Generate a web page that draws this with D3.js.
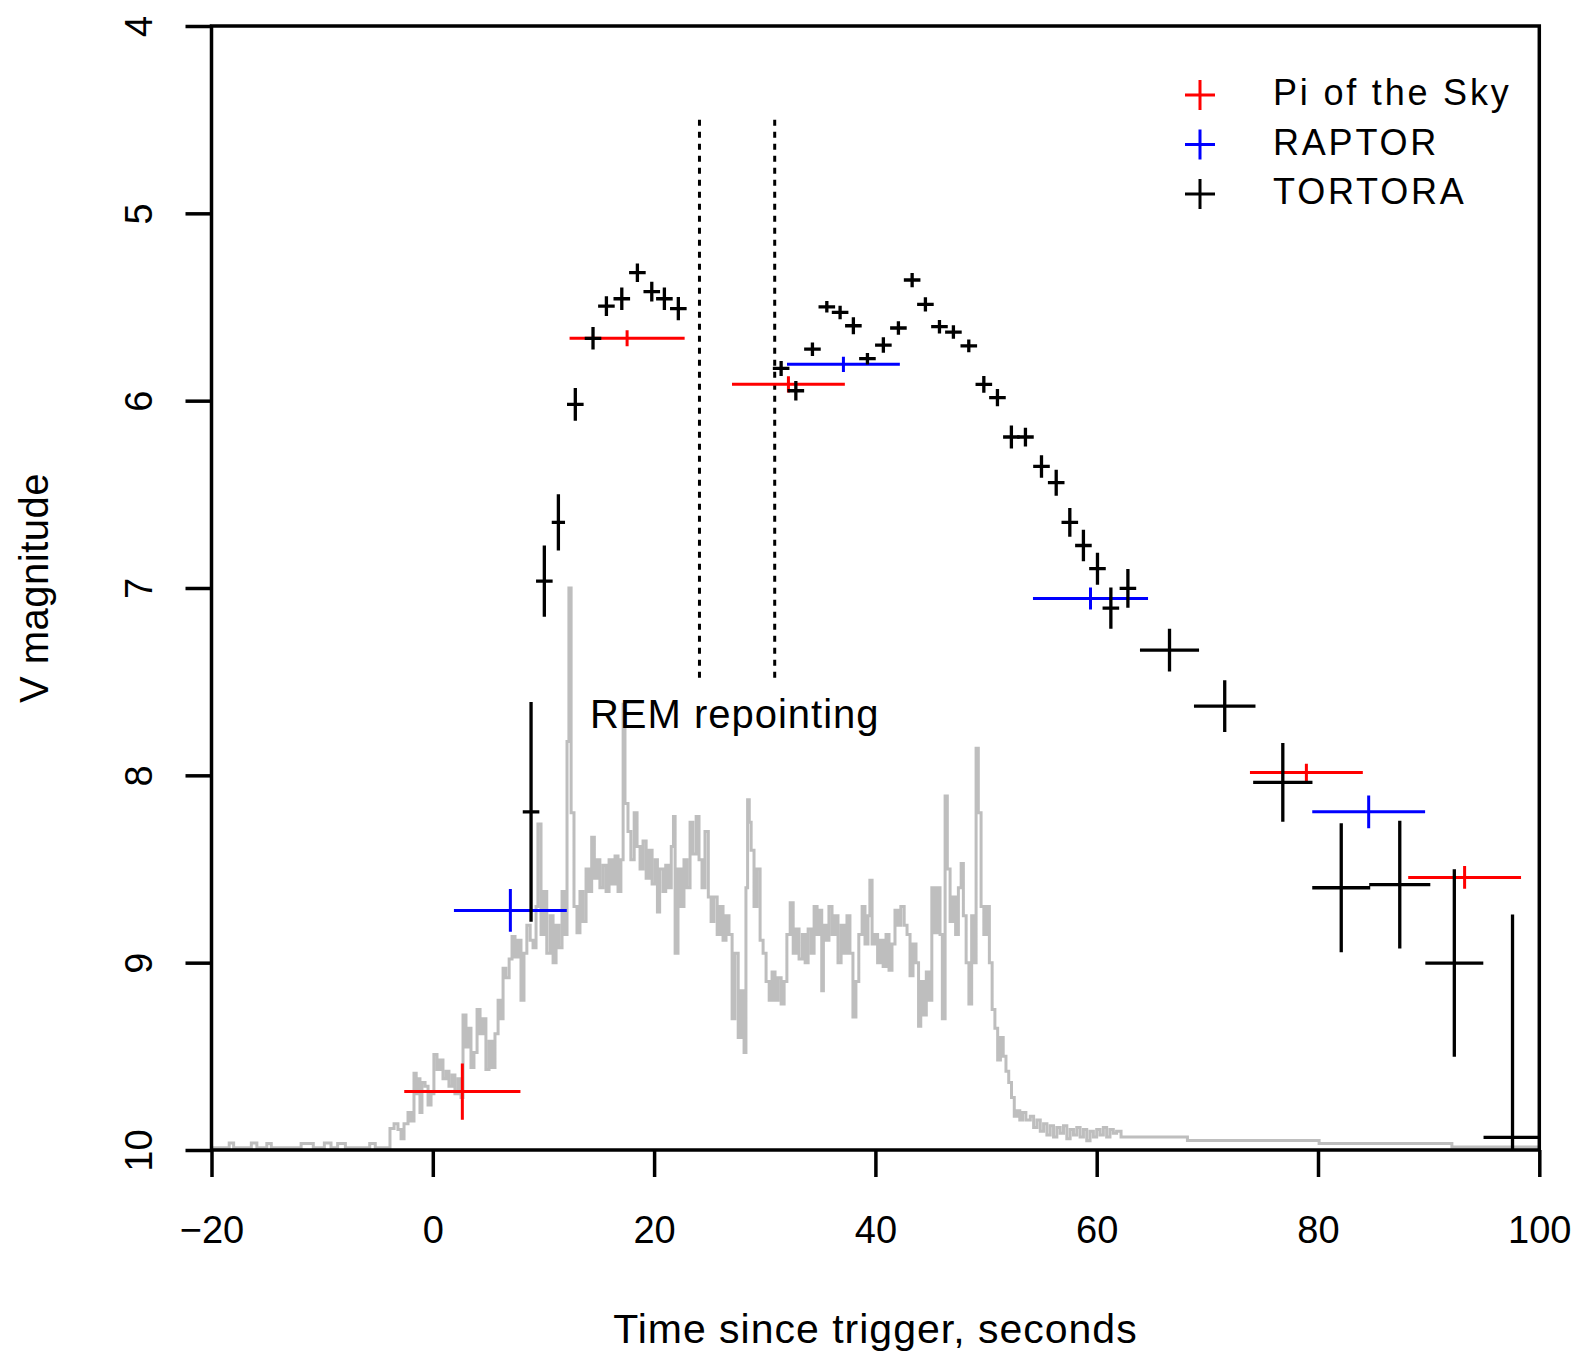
<!DOCTYPE html>
<html>
<head>
<meta charset="utf-8">
<script src="https://cdn.jsdelivr.net/npm/d3@7"></script>
<style>
    body { margin: 0; background: #fff; }
    svg { display: block; font-family: "Liberation Sans", Arial, sans-serif; }
</style>
</head>
<body>
<div id="chart"></div>
<script>
var xTicks = [-20, 0, 20, 40, 60, 80, 100];
var yTicks = [4, 5, 6, 7, 8, 9, 10];

// Pi of the Sky: time, magnitude, half-widths of the error bars
var piTime = [2.67, 17.56, 32.14, 78.95, 93.25];
var piMag = [9.688, 5.667, 5.913, 7.985, 8.545];
var piTimeErr = [5.25, 5.2, 5.1, 5.1, 5.1];
var piMagErr = [0.15, 0.043, 0.044, 0.047, 0.061];

// RAPTOR
var raptorTime = [7.01, 37.11, 59.44, 84.58];
var raptorMag = [8.721, 5.806, 7.056, 8.195];
var raptorTimeErr = [5.1, 5.1, 5.2, 5.1];
var raptorMagErr = [0.114, 0.041, 0.059, 0.088];

// TORTORA
var tortoraTime = [8.88, 10.08, 11.35, 12.88, 14.48, 15.69, 17.08, 18.49, 19.79, 20.93, 22.19,
    31.48, 32.81, 34.31, 35.61, 36.81, 38.01, 39.28, 40.72, 42.08, 43.32, 44.52, 45.79, 47.05,
    48.44, 49.80, 51.03, 52.29, 53.56, 55.01, 56.34, 57.57, 58.80, 60.07, 61.28, 62.82,
    66.58, 71.57, 76.82, 82.1, 87.39, 92.32, 97.58];
var tortoraMag = [8.195, 6.963, 6.65, 6.02, 5.667, 5.495, 5.456, 5.317, 5.418, 5.456, 5.509,
    5.828, 5.947, 5.725, 5.499, 5.529, 5.6, 5.776, 5.703, 5.612, 5.356, 5.486, 5.605, 5.634,
    5.707, 5.913, 5.984, 6.194, 6.194, 6.351, 6.438, 6.65, 6.773, 6.897, 7.107, 7.002,
    7.332, 7.631, 8.038, 8.6, 8.583, 9.002, 9.933];
var tortoraTimeErr = [0.75, 0.75, 0.6, 0.75, 0.75, 0.75, 0.75, 0.75, 0.75, 0.75, 0.75,
    0.75, 0.75, 0.75, 0.75, 0.75, 0.75, 0.75, 0.75, 0.75, 0.75, 0.75, 0.75, 0.75,
    0.75, 0.75, 0.75, 0.75, 0.75, 0.75, 0.75, 0.75, 0.75, 0.75, 0.75, 0.75,
    2.67, 2.78, 2.68, 2.62, 2.76, 2.62, 2.62];
var tortoraMagErr = [0.587, 0.19, 0.15, 0.087, 0.06, 0.053, 0.06, 0.049, 0.053, 0.06, 0.062,
    0.04, 0.052, 0.036, 0.031, 0.036, 0.045, 0.031, 0.041, 0.036, 0.038, 0.038, 0.036, 0.036,
    0.034, 0.045, 0.046, 0.061, 0.05, 0.06, 0.069, 0.077, 0.084, 0.085, 0.11, 0.103,
    0.114, 0.138, 0.21, 0.344, 0.341, 0.5, 1.19];

// REM repointing interval (dotted lines) and its label
var remLines = [24.1, 30.9];
var remSpan = [4.5, 7.5];
var remLabel = { text: "REM repointing", t: 14.2, m: 7.745 };

var legendItems = [
    { name: "Pi of the Sky", color: "#ff0000" },
    { name: "RAPTOR", color: "#0000ff" },
    { name: "TORTORA", color: "#000000" }
];

// gamma-ray light curve, scaled onto the magnitude axis: [time, level]
var batCurve = [
    [-20, 9.988], [-18.4, 9.962], [-18.0, 9.988], [-16.4, 9.962], [-15.9, 9.988], [-15.0, 9.965],
    [-14.6, 9.988], [-11.9, 9.965], [-10.8, 9.988], [-9.8, 9.962], [-9.2, 9.988], [-8.6, 9.965],
    [-7.9, 9.988], [-5.7, 9.965], [-5.2, 9.988],
    [-3.87, 9.885], [-3.5, 9.86], [-3.15, 9.89], [-2.87, 9.94], [-2.6, 9.86], [-2.24, 9.80],
    [-1.97, 9.845], [-1.7, 9.59], [-1.5, 9.70], [-1.34, 9.62], [-1.16, 9.80], [-0.98, 9.64],
    [-0.7, 9.66], [-0.43, 9.76], [-0.16, 9.70],
    [0.1, 9.49], [0.38, 9.57], [0.65, 9.52], [0.92, 9.62], [1.2, 9.58], [1.46, 9.66], [1.74, 9.6],
    [2.0, 9.70], [2.28, 9.62], [2.55, 9.72], [2.73, 9.28], [3.0, 9.45], [3.18, 9.35], [3.45, 9.56],
    [3.72, 9.48], [4.0, 9.25], [4.27, 9.38], [4.54, 9.30], [4.8, 9.57], [5.08, 9.42], [5.35, 9.56],
    [5.62, 9.38], [5.9, 9.20], [6.16, 9.30], [6.35, 9.03], [6.6, 9.08], [6.9, 8.98], [7.16, 8.86],
    [7.43, 8.97], [7.7, 8.88], [7.97, 9.2], [8.24, 8.95], [8.5, 8.80], [8.8, 8.88], [9.06, 8.92],
    [9.33, 8.70], [9.5, 8.26], [9.78, 8.85], [10.05, 8.62], [10.3, 8.95], [10.6, 8.75], [10.87, 9.0],
    [11.14, 8.80], [11.4, 8.92], [11.68, 8.62], [11.95, 8.85], [12.13, 7.82], [12.3, 7.0],
    [12.5, 8.2], [12.76, 8.7], [13.03, 8.84], [13.3, 8.62], [13.57, 8.78], [13.85, 8.5], [14.1, 8.62],
    [14.36, 8.33], [14.6, 8.55], [14.84, 8.45], [15.1, 8.6], [15.38, 8.48], [15.66, 8.62], [15.93, 8.45],
    [16.2, 8.58], [16.47, 8.43], [16.74, 8.62], [17.0, 8.45], [17.2, 7.62], [17.37, 8.15], [17.64, 8.3],
    [17.9, 8.45], [18.2, 8.2], [18.46, 8.38], [18.73, 8.5], [19.0, 8.35], [19.28, 8.55], [19.55, 8.4],
    [19.82, 8.58], [20.1, 8.45], [20.3, 8.73], [20.5, 8.5], [20.8, 8.62], [21.05, 8.48], [21.3, 8.6],
    [21.55, 8.38], [21.75, 8.22], [21.9, 8.95], [22.16, 8.5], [22.43, 8.7], [22.7, 8.45], [22.97, 8.6],
    [23.25, 8.25], [23.5, 8.42], [23.8, 8.22], [24.06, 8.45], [24.33, 8.6], [24.6, 8.3], [24.9, 8.65],
    [25.15, 8.78], [25.4, 8.65], [25.7, 8.85], [25.96, 8.7], [26.23, 8.88], [26.5, 8.75], [26.77, 8.85],
    [27.05, 9.3], [27.3, 8.95], [27.6, 9.4], [27.86, 9.15], [28.13, 9.48], [28.3, 8.6], [28.45, 8.13],
    [28.6, 8.25], [28.77, 8.4], [29.03, 8.7], [29.3, 8.5], [29.58, 8.88], [29.85, 8.95], [30.12, 9.1],
    [30.4, 9.2], [30.66, 9.05], [30.93, 9.2], [31.2, 9.08], [31.48, 9.22], [31.75, 9.1], [32.0, 8.85],
    [32.3, 8.68], [32.57, 8.95], [32.84, 8.82], [33.1, 8.98], [33.4, 8.85], [33.65, 9.0], [33.92, 8.82],
    [34.2, 8.95], [34.46, 8.7], [34.73, 8.85], [35.0, 8.72], [35.15, 9.15], [35.3, 8.8], [35.54, 8.88],
    [35.8, 8.7], [36.08, 8.85], [36.35, 8.75], [36.62, 9.0], [36.9, 8.8], [37.16, 8.95], [37.43, 8.75],
    [37.7, 8.95], [37.97, 9.29], [38.24, 9.1], [38.5, 8.85], [38.8, 8.7], [39.06, 8.9], [39.33, 8.75],
    [39.5, 8.56], [39.7, 8.9], [39.95, 8.85], [40.2, 9.0], [40.45, 8.88], [40.7, 9.02], [40.96, 8.85],
    [41.23, 9.04], [41.5, 8.9], [41.77, 8.72], [42.04, 8.8], [42.3, 8.7], [42.6, 8.8], [42.86, 8.85],
    [43.13, 9.07], [43.4, 8.9], [43.67, 9.0], [43.9, 9.34], [44.1, 9.1], [44.35, 9.28], [44.6, 9.05],
    [44.85, 9.2], [45.1, 8.6], [45.35, 8.84], [45.6, 8.6], [45.84, 8.85], [46.05, 9.3], [46.3, 8.11],
    [46.5, 8.5], [46.75, 8.78], [47.0, 8.65], [47.25, 8.85], [47.5, 8.6], [47.75, 8.47], [47.95, 8.75],
    [48.2, 9.0], [48.45, 9.22], [48.7, 8.75], [48.9, 9.0], [49.1, 7.855], [49.3, 8.2], [49.55, 8.7],
    [49.8, 8.85], [50.05, 8.7], [50.3, 9.0], [50.55, 9.25], [50.8, 9.35], [51.05, 9.52], [51.3, 9.4],
    [51.55, 9.5], [51.8, 9.58], [52.05, 9.64], [52.3, 9.72], [52.55, 9.82], [52.8, 9.79], [53.05, 9.84],
    [53.3, 9.8], [53.6, 9.84],
    [54.0, 9.82], [54.3, 9.88], [54.6, 9.84], [54.9, 9.9], [55.2, 9.86], [55.5, 9.92], [55.8, 9.87],
    [56.1, 9.93], [56.4, 9.88], [56.7, 9.91], [57.0, 9.87], [57.3, 9.94], [57.6, 9.89], [57.9, 9.92],
    [58.2, 9.88], [58.5, 9.93], [58.8, 9.89], [59.1, 9.95], [59.4, 9.9], [59.7, 9.93], [60.0, 9.89],
    [60.3, 9.92], [60.6, 9.88], [60.9, 9.93], [61.2, 9.89], [61.5, 9.91], [61.8, 9.9],
    [62.2, 9.931], [68.2, 9.949], [80.1, 9.965], [92.1, 9.984], [100, 9.984]
];

(function (selector) {
    var svg = d3.select(selector).append("svg")
        .attr("width", 1577)
        .attr("height", 1354);

    var x = d3.scaleLinear().domain([-20, 100]).range([211.5, 1539.3]);
    var y = d3.scaleLinear().domain([4, 10]).range([26, 1150]);

    svg.append("rect")
        .attr("width", 1577).attr("height", 1354).attr("fill", "#fff");

    svg.append("clipPath").attr("id", "plotclip")
        .append("rect")
        .attr("x", x(-20)).attr("y", y(4))
        .attr("width", x(100) - x(-20)).attr("height", y(10) - y(4));

    var plot = svg.append("g").attr("clip-path", "url(#plotclip)");

    // light curve in the background
    var line = d3.line()
        .x(function (d) { return x(d[0]); })
        .y(function (d) { return y(d[1]); })
        .curve(d3.curveStepAfter);

    plot.append("path")
        .datum(batCurve)
        .attr("d", line)
        .attr("fill", "none")
        .attr("stroke", "#bebebe")
        .attr("stroke-width", 3);

    // dotted REM lines
    plot.selectAll("line.rem")
        .data(remLines)
        .enter().append("line")
        .attr("class", "rem")
        .attr("x1", function (d) { return x(d); })
        .attr("x2", function (d) { return x(d); })
        .attr("y1", y(remSpan[0]))
        .attr("y2", y(remSpan[1]))
        .attr("stroke", "#000")
        .attr("stroke-width", 3)
        .attr("stroke-dasharray", "6,6");

    plot.append("text")
        .attr("x", x(remLabel.t))
        .attr("y", y(remLabel.m))
        .attr("font-size", 40)
        .attr("letter-spacing", 1)
        .text(remLabel.text);

    function series(times, mags, tErr, mErr) {
        return times.map(function (t, i) {
            return { t: t, m: mags[i], te: tErr[i], me: mErr[i] };
        });
    }

    function errorBars(data, color, width) {
        plot.append("g")
            .selectAll("path")
            .data(data)
            .enter().append("path")
            .attr("d", function (d) {
                return "M" + x(d.t - d.te) + "," + y(d.m) + "H" + x(d.t + d.te) +
                    "M" + x(d.t) + "," + y(d.m - d.me) + "V" + y(d.m + d.me);
            })
            .attr("fill", "none")
            .attr("stroke", color)
            .attr("stroke-width", width);
    }

    errorBars(series(piTime, piMag, piTimeErr, piMagErr), "#ff0000", 3);
    errorBars(series(raptorTime, raptorMag, raptorTimeErr, raptorMagErr), "#0000ff", 3);
    errorBars(series(tortoraTime, tortoraMag, tortoraTimeErr, tortoraMagErr), "#000000", 3.3);

    // box
    svg.append("rect")
        .attr("x", x(-20)).attr("y", y(4))
        .attr("width", x(100) - x(-20)).attr("height", y(10) - y(4))
        .attr("fill", "none")
        .attr("stroke", "#000")
        .attr("stroke-width", 3.5);

    // axes
    var xAxis = svg.append("g")
        .attr("transform", "translate(0," + y(10) + ")")
        .call(d3.axisBottom(x).tickValues(xTicks).tickSize(27).tickSizeOuter(0));
    xAxis.select(".domain").remove();
    xAxis.selectAll(".tick line").attr("stroke", "#000").attr("stroke-width", 3.5);
    xAxis.selectAll(".tick text")
        .attr("y", 93)
        .attr("dy", null)
        .attr("fill", "#000")
        .attr("font-size", 38)
        .attr("font-family", "Liberation Sans, Arial, sans-serif");

    var yAxis = svg.append("g")
        .attr("transform", "translate(" + x(-20) + ",0)")
        .call(d3.axisLeft(y).tickValues(yTicks).tickFormat(d3.format("d")).tickSize(26).tickSizeOuter(0));
    yAxis.select(".domain").remove();
    yAxis.selectAll(".tick line").attr("stroke", "#000").attr("stroke-width", 3.5);
    yAxis.selectAll(".tick text")
        .attr("x", 0)
        .attr("dy", null)
        .attr("transform", "translate(-60,0) rotate(-90)")
        .attr("text-anchor", "middle")
        .attr("fill", "#000")
        .attr("font-size", 38)
        .attr("font-family", "Liberation Sans, Arial, sans-serif");

    // axis titles
    svg.append("text")
        .attr("x", (x(-20) + x(100)) / 2)
        .attr("y", 1343)
        .attr("text-anchor", "middle")
        .attr("font-size", 41)
        .attr("letter-spacing", 1)
        .text("Time since trigger, seconds");

    svg.append("text")
        .attr("transform", "translate(48," + (y(4) + y(10)) / 2 + ") rotate(-90)")
        .attr("text-anchor", "middle")
        .attr("font-size", 40)
        .attr("letter-spacing", 0.5)
        .text("V magnitude");

    // legend
    var legend = svg.append("g")
        .attr("class", "legend")
        .selectAll("g")
        .data(legendItems)
        .enter().append("g")
        .attr("transform", function (d, i) { return "translate(1200," + (95 + i * 49.5) + ")"; });

    legend.append("path")
        .attr("d", "M-15,0H15M0,-15V15")
        .attr("stroke", function (d) { return d.color; })
        .attr("stroke-width", 3);

    legend.append("text")
        .attr("x", 73)
        .attr("y", 10)
        .attr("font-size", 36)
        .attr("letter-spacing", 2.8)
        .text(function (d) { return d.name; });
})("#chart");
</script>
</body>
</html>
